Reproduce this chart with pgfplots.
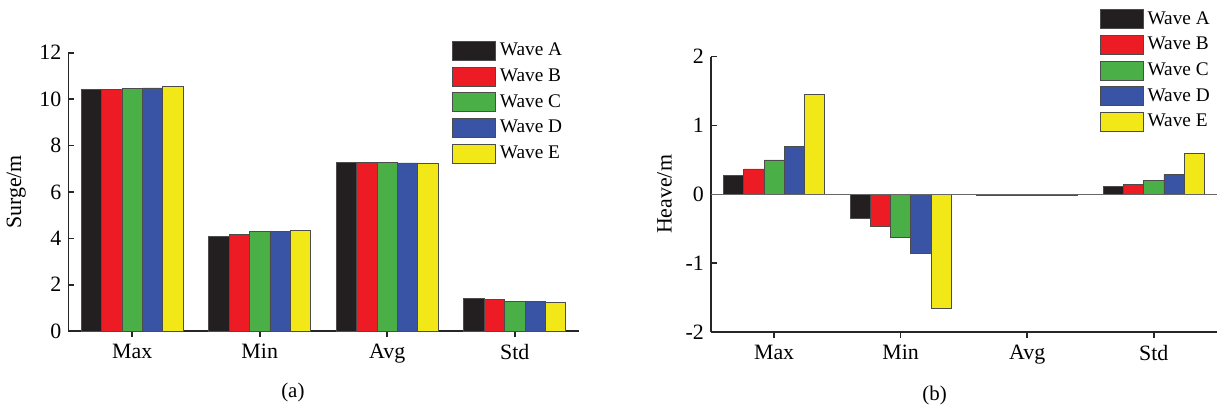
\documentclass[border=0pt]{standalone}
\usepackage{fontspec}
\setmainfont{Liberation Serif}
\usepackage{pgfplots}
\pgfplotsset{compat=1.18}
\definecolor{wA}{HTML}{231F20}
\definecolor{wB}{HTML}{ED1C24}
\definecolor{wC}{HTML}{4BAF48}
\definecolor{wD}{HTML}{3954A5}
\definecolor{wE}{HTML}{F2E817}
\pgfplotsset{
  wavebars/.style={
    scale only axis,
    clip=false,
    axis lines=left,
    axis line style={-, line width=0.8pt, black!85},
    tick align=inside,
    major tick length=3pt,
    tick style={line width=0.8pt, black!85},
    xmin=-0.5, xmax=3.5,
    xtick={0,1,2,3},
    xticklabels={Max,Min,Avg,Std},
    ybar, bar width=0.16,
    /pgf/number format/assume math mode=true,
    tick label style={font=\fontsize{11}{13}\selectfont},
    label style={font=\fontsize{11}{13}\selectfont},
    legend style={draw=none, fill=none, font=\fontsize{9.7}{11}\selectfont,
      inner sep=0pt, row sep=1pt},
    legend cell align=left,
    legend image code/.code={\draw[#1] (0pt,-4.75pt) rectangle (21.5pt,4.75pt);},
    every axis plot/.append style={draw=black!70, line width=0.4pt},
  },
}
\begin{document}
\begin{tikzpicture}
% (a) surge
\begin{axis}[wavebars,
    at={(0pt,0pt)}, anchor=south west,
    width=256.5pt, height=140pt,
    ymin=0, ymax=12, ytick={0,2,...,12},
    ylabel={Surge/m},
    legend style={at={(axis description cs:0.752,1.05)}, anchor=north west},
  ]
  \addplot[fill=wA, bar shift=-0.32] coordinates {(0,10.42) (1,4.10) (2,7.28) (3,1.42)};
  \addplot[fill=wB, bar shift=-0.16] coordinates {(0,10.42) (1,4.18) (2,7.28) (3,1.35)};
  \addplot[fill=wC, bar shift=0]     coordinates {(0,10.45) (1,4.30) (2,7.28) (3,1.28)};
  \addplot[fill=wD, bar shift=0.16]  coordinates {(0,10.48) (1,4.30) (2,7.25) (3,1.27)};
  \addplot[fill=wE, bar shift=0.32]  coordinates {(0,10.55) (1,4.33) (2,7.22) (3,1.22)};
  \legend{Wave A, Wave B, Wave C, Wave D, Wave E}
  \node[font=\fontsize{10.5}{12}\selectfont] at (axis description cs:0.44,-0.221) {(a)};
\end{axis}
% (b) heave
\begin{axis}[wavebars,
    at={(323pt,-0.5pt)}, anchor=south west,
    width=254.5pt, height=138.5pt,
    ymin=-2, ymax=2, ytick={-2,-1,0,1,2},
    ylabel={Heave/m},
    legend style={at={(axis description cs:0.768,1.18)}, anchor=north west},
  ]
  \addplot[fill=wA, bar shift=-0.32] coordinates {(0,0.27) (1,-0.35) (2,-0.02) (3,0.11)};
  \addplot[fill=wB, bar shift=-0.16] coordinates {(0,0.37) (1,-0.47) (2,-0.02) (3,0.15)};
  \addplot[fill=wC, bar shift=0]     coordinates {(0,0.50) (1,-0.63) (2,-0.02) (3,0.20)};
  \addplot[fill=wD, bar shift=0.16]  coordinates {(0,0.70) (1,-0.86) (2,-0.02) (3,0.29)};
  \addplot[fill=wE, bar shift=0.32]  coordinates {(0,1.45) (1,-1.65) (2,-0.02) (3,0.59)};
  \legend{Wave A, Wave B, Wave C, Wave D, Wave E}
  \draw[black!60, line width=0.6pt] (axis cs:-0.5,0) -- (axis cs:3.5,0);
  \node[font=\fontsize{10.5}{12}\selectfont] at (axis description cs:0.442,-0.231) {(b)};
\end{axis}
\path (-31pt,-40.5pt) rectangle (581.5pt,166.5pt);
\end{tikzpicture}
\end{document}
